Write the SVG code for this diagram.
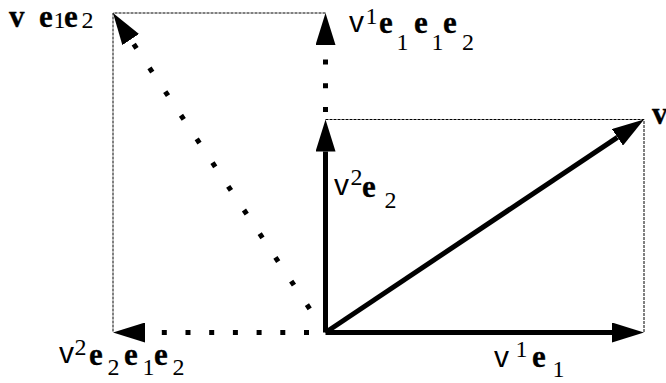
<svg xmlns="http://www.w3.org/2000/svg" width="666" height="383" viewBox="0 0 666 383">
<defs>
<style>
.thin{stroke:#000;stroke-width:1;stroke-dasharray:3 1;fill:none}
.thick{stroke:#000;stroke-width:5;fill:none}
.dot{stroke:#000;stroke-width:5;fill:none;stroke-dasharray:5 18.7}
text{font-family:"Liberation Serif","Times New Roman","DejaVu Serif",serif;fill:#000}
.b{font-weight:bold;font-size:31px;stroke:#000;stroke-width:0.3}
.n{font-weight:normal;font-size:24px;stroke:none}
.s{font-family:"Liberation Sans",Arial,"DejaVu Sans",sans-serif;font-weight:normal;font-size:30px;stroke:none}
</style>
<marker id="ah" markerUnits="userSpaceOnUse" markerWidth="32" markerHeight="20" viewBox="0 0 32 20" refX="0" refY="10" orient="auto">
<path d="M0,0 L32,10 L0,20 z" fill="#000"/>
</marker>
</defs>
<rect width="666" height="383" fill="#fff"/>
<g id="guides">
<path class="thin" d="M325.5,119.5 H644 V332.5"/>
<path class="thin" d="M325.5,13 H113 V332.5"/>
</g>
<g id="connectors">
<line id="a-v1e1" class="thick" x1="325.5" y1="332.5" x2="612" y2="332.5" marker-end="url(#ah)"/>
<line id="a-v2e2" class="thick" x1="325.5" y1="332.5" x2="325.5" y2="151.5" marker-end="url(#ah)"/>
<line id="a-v" class="thick" x1="325.5" y1="332.5" x2="617.4" y2="137.3" marker-end="url(#ah)"/>
<line id="a-left" class="dot" x1="309" y1="332.5" x2="145" y2="332.5" marker-end="url(#ah)"/>
<line id="a-up" class="dot" x1="325.5" y1="112" x2="325.5" y2="45" marker-end="url(#ah)"/>
<line id="a-diag" class="dot" x1="309.7" y1="308.9" x2="130.7" y2="39.6" style="stroke-dasharray:5 23.44" marker-end="url(#ah)"/>
</g>
<g id="label-ve1e2">
<text><tspan class="b" x="9" y="27">v</tspan><tspan class="b" x="39" y="27">e</tspan><tspan class="n" x="53.5" y="28">1</tspan><tspan class="b" x="64" y="27">e</tspan><tspan class="n" x="81.5" y="28">2</tspan></text>
</g>
<g id="label-v1e1e1e2">
<text><tspan class="s" x="349" y="32">v</tspan><tspan class="n" x="365.5" y="24">1</tspan><tspan class="b" x="379" y="33">e</tspan><tspan class="n" x="396.5" y="50">1</tspan><tspan class="b" x="414" y="33">e</tspan><tspan class="n" x="431.5" y="50">1</tspan><tspan class="b" x="443" y="33">e</tspan><tspan class="n" x="462" y="50">2</tspan></text>
</g>
<g id="label-v2e2">
<text><tspan class="s" x="334" y="195">v</tspan><tspan class="n" x="350.5" y="185">2</tspan><tspan class="b" x="362" y="197">e</tspan><tspan class="n" x="384.5" y="208">2</tspan></text>
</g>
<g id="label-v2e2e1e2">
<text><tspan class="s" x="59" y="363">v</tspan><tspan class="n" x="74.5" y="355">2</tspan><tspan class="b" x="89" y="365">e</tspan><tspan class="n" x="107.5" y="375">2</tspan><tspan class="b" x="124" y="365">e</tspan><tspan class="n" x="142.5" y="375">1</tspan><tspan class="b" x="154" y="365">e</tspan><tspan class="n" x="172.5" y="375">2</tspan></text>
</g>
<g id="label-v1e1">
<text><tspan class="s" x="494" y="367">v</tspan><tspan class="n" x="515.5" y="357">1</tspan><tspan class="b" x="532" y="367">e</tspan><tspan class="n" x="552.5" y="377">1</tspan></text>
</g>
<g id="label-v">
<text class="b" x="652" y="124">v</text>
</g>
</svg>
